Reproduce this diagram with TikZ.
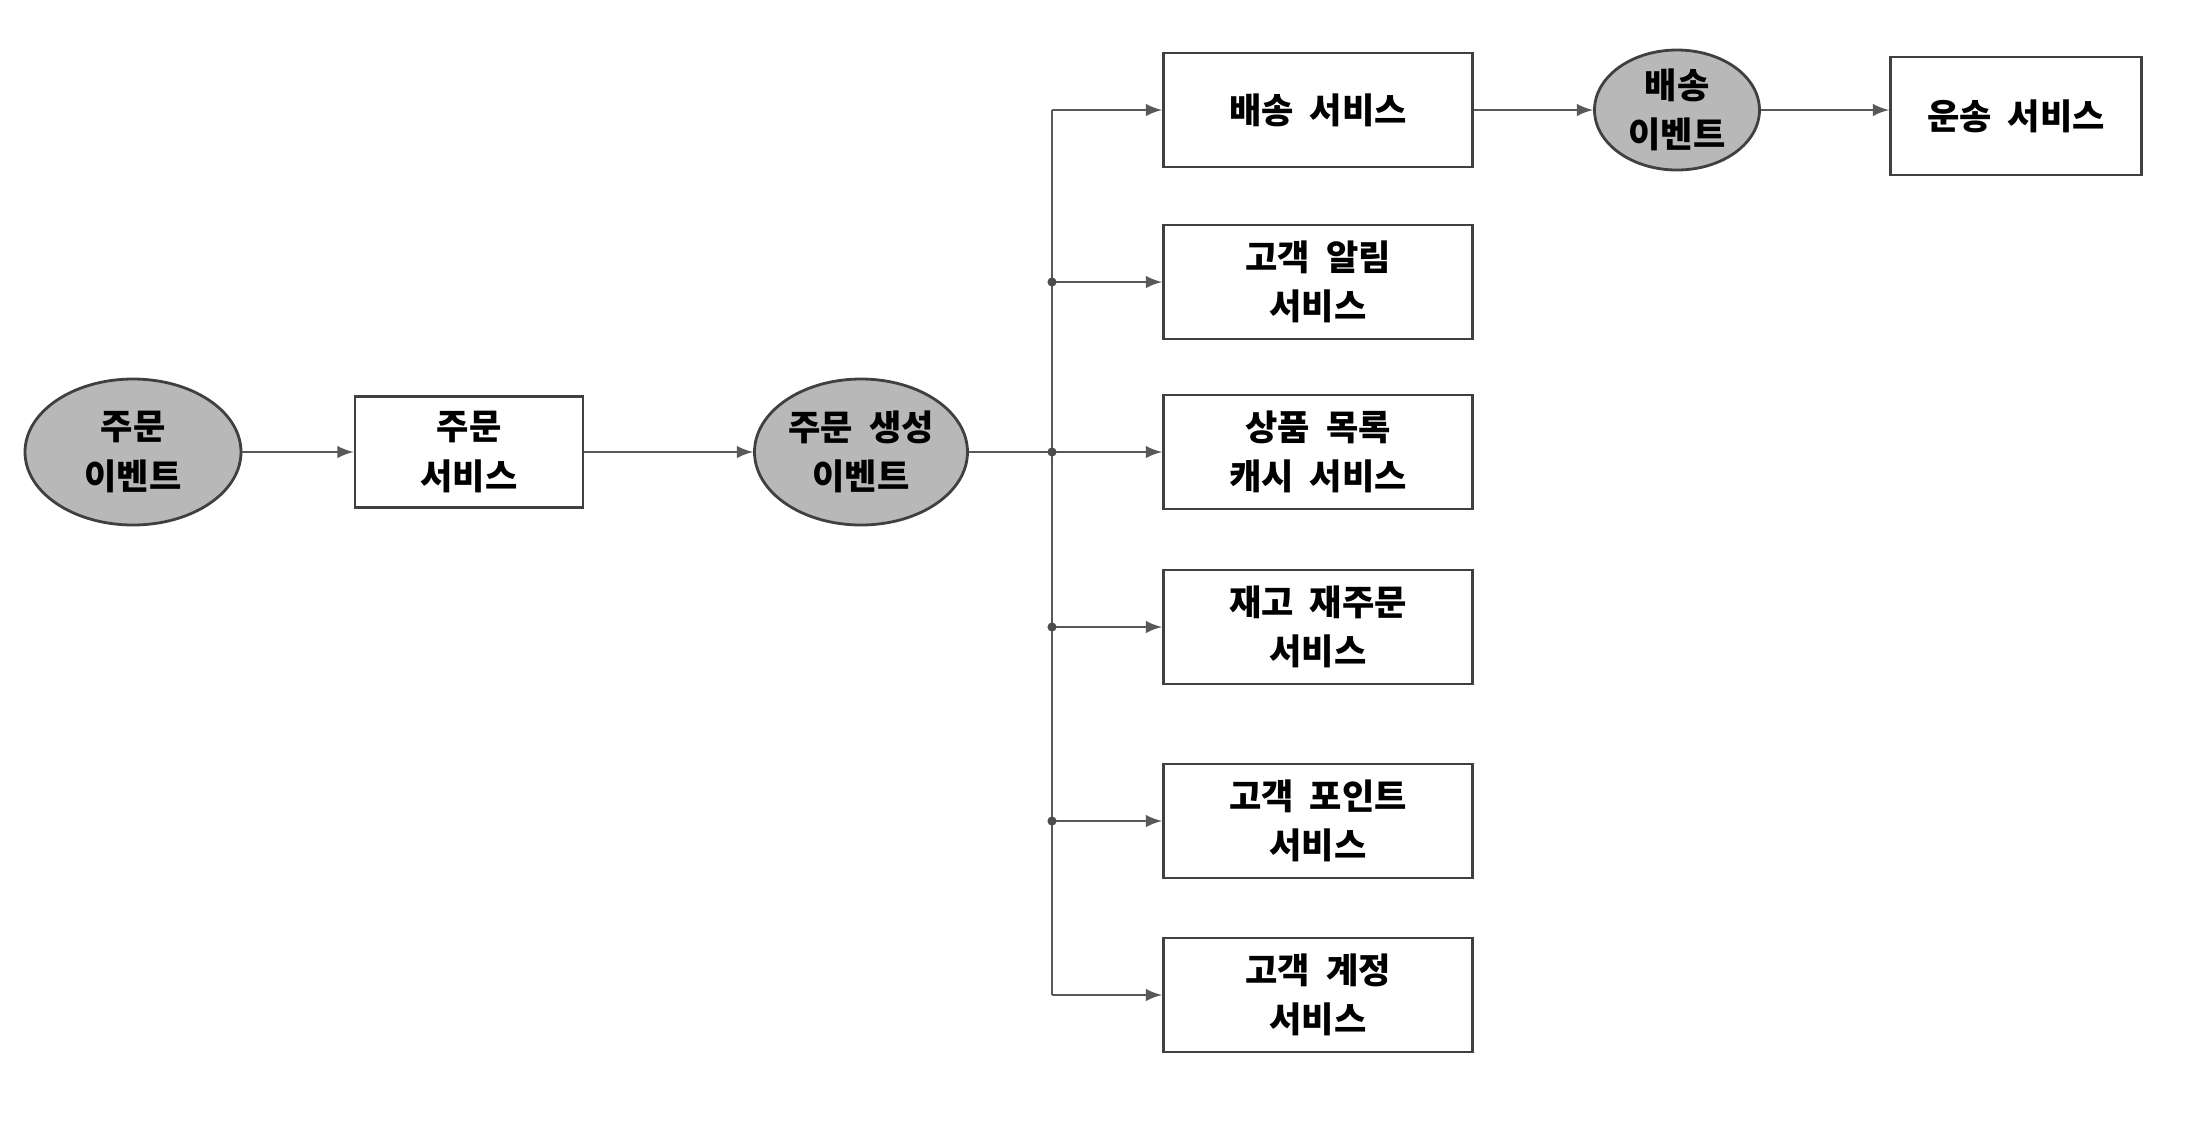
\documentclass[tikz,border=0pt]{standalone}
\usepackage{fontspec}
\setmainfont[WordSpace=2]{Noto Sans CJK KR}
\usetikzlibrary{shapes.geometric}
\tikzset{>=latex}

\begin{document}
\begin{tikzpicture}[x=0.1mm,y=-0.1mm]
\useasboundingbox (0,0) rectangle (2188,1124);
\begin{scope}[every node/.style={ellipse,draw=black!75,line width=0.8pt,fill=black!28,align=center,inner sep=0pt,font=\fontsize{10pt}{14pt}\selectfont\bfseries}]
\node[minimum width=21.6mm,minimum height=14.6mm] (EV1) at (133,452) {주문\\이벤트};
\node[minimum width=21.3mm,minimum height=14.6mm] (EV2) at (861,452) {주문 생성\\이벤트};
\node[minimum width=16.5mm,minimum height=12.0mm] (EV3) at (1677,110) {배송\\이벤트};
\end{scope}
\begin{scope}[every node/.style={rectangle,draw=black!75,line width=0.8pt,fill=white,align=center,minimum width=30.9mm,minimum height=11.4mm,font=\fontsize{10pt}{14pt}\selectfont\bfseries}]
\node[minimum width=22.8mm,minimum height=11.1mm] (SV1) at (469,452) {주문\\서비스};
\node (SV2) at (1318,110) {배송 서비스};
\node (SV3) at (1318,282) {고객 알림\\서비스};
\node (SV4) at (1318,452) {상품 목록\\캐시 서비스};
\node (SV5) at (1318,627) {재고 재주문\\서비스};
\node (SV6) at (1318,821) {고객 포인트\\서비스};
\node (SV7) at (1318,995) {고객 계정\\서비스};
\node[minimum width=25.1mm,minimum height=11.8mm] (SV8) at (2016,116) {운송 서비스};
\end{scope}
% trunk
\coordinate (J1) at (1052,110);
\coordinate (J2) at (1052,282);
\coordinate (J3) at (1052,452);
\coordinate (J4) at (1052,627);
\coordinate (J5) at (1052,821);
\coordinate (J6) at (1052,995);
\begin{scope}[every edge/.style={draw=black!65,line width=0.6pt}]
    \path [->] (EV1) edge (SV1);
    \path [->] (SV1) edge (EV2);
    \path (EV2) edge (J3);
    \path (J1) edge (J6);

    \path [->] (J1) edge (SV2);
    \path [->] (J2) edge (SV3);
    \path [->] (J3) edge (SV4);
    \path [->] (J4) edge (SV5);
    \path [->] (J5) edge (SV6);
    \path [->] (J6) edge (SV7);

    \path [->] (SV2) edge (EV3);
    \path [->] (EV3) edge (EV3 -| SV8.west);
\end{scope}
\foreach \j in {J2,J3,J4,J5}
    \fill[black!70] (\j) circle (1.3pt);
\end{tikzpicture}
\end{document}
